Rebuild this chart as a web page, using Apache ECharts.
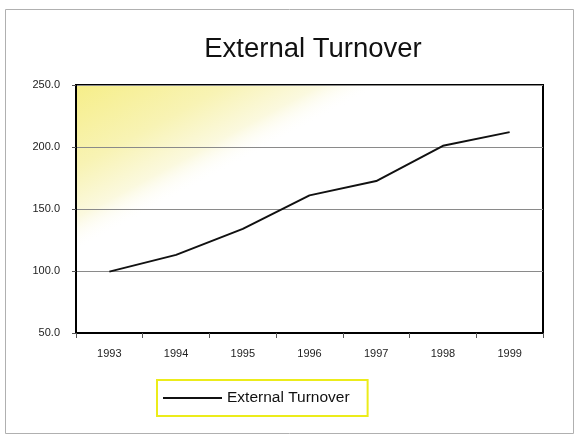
<!DOCTYPE html>
<html>
<head>
<meta charset="utf-8">
<script src="https://cdn.jsdelivr.net/npm/echarts@6/dist/echarts.min.js"></script>
<style>html,body{margin:0;padding:0;background:#fff;}#c{width:580px;height:434px;}</style>
</head>
<body>
<div id="c"></div>
<script>
var titleText = 'External Turnover';
var seriesName = 'External Turnover';
var years = ['1993', '1994', '1995', '1996', '1997', '1998', '1999'];
var turnover = [99.5, 113, 134, 161, 172.5, 201, 212];
var yMin = 50, yMax = 250, yStep = 50;

var chart = echarts.init(document.getElementById('c'), null, {renderer: 'canvas'});
var font = '"Liberation Sans", Arial, sans-serif';
chart.setOption({
  backgroundColor: '#ffffff',
  animation: false,
  title: {
    text: titleText,
    left: 308, top: 30, textAlign: 'center',
    textStyle: {fontFamily: font, fontSize: 27.5, fontWeight: 'normal', color: '#111'}
  },
  graphic: [{
    type: 'rect', left: 3, top: 7, z: -1,
    shape: {width: 568, height: 424},
    style: {fill: 'none', stroke: '#b0b0b0', lineWidth: 1}
  }],
  grid: {
    left: 76, right: 37, top: 85, bottom: 101,
    show: true, borderColor: '#000', borderWidth: 2,
    backgroundColor: {
      type: 'linear', x: 0, y: 0, x2: 0.15, y2: 0.52,
      colorStops: [
        {offset: 0, color: '#f6ee88'},
        {offset: 0.5, color: '#f8f3b4'},
        {offset: 0.8, color: '#fbf9df'},
        {offset: 1, color: 'rgba(255,255,255,0)'}
      ]
    }
  },
  legend: {
    data: [seriesName],
    left: 157, top: 380,
    orient: 'horizontal',
    padding: [10, 18, 10, 6],
    borderColor: '#ecec1a', borderWidth: 2,
    itemWidth: 59, itemHeight: 14,
    icon: 'path://M0,6 L59,6 L59,8 L0,8 Z',
    textStyle: {fontFamily: font, fontSize: 15.5, color: '#111'}
  },
  xAxis: {
    type: 'category', data: years, boundaryGap: true,
    axisLine: {show: true, lineStyle: {color: '#000', width: 2}},
    axisTick: {show: true, inside: false, length: 5, alignWithLabel: false, lineStyle: {color: '#555', width: 1}},
    axisLabel: {fontFamily: font, fontSize: 11, color: '#222', margin: 15},
    splitLine: {show: false}
  },
  yAxis: {
    type: 'value', min: yMin, max: yMax, interval: yStep,
    axisLine: {show: true, lineStyle: {color: '#000', width: 2}},
    axisTick: {show: true, length: 4, lineStyle: {color: '#555', width: 1}},
    axisLabel: {fontFamily: font, fontSize: 11, color: '#222', margin: 16,
      formatter: function (v) { return v.toFixed(1); }},
    splitLine: {show: true, lineStyle: {color: '#8a8a8a', width: 1}}
  },
  series: [{
    name: seriesName, type: 'line', data: turnover,
    showSymbol: false, symbol: 'none',
    lineStyle: {color: '#111', width: 2},
    itemStyle: {color: '#111'}
  }]
});
</script>
</body>
</html>
